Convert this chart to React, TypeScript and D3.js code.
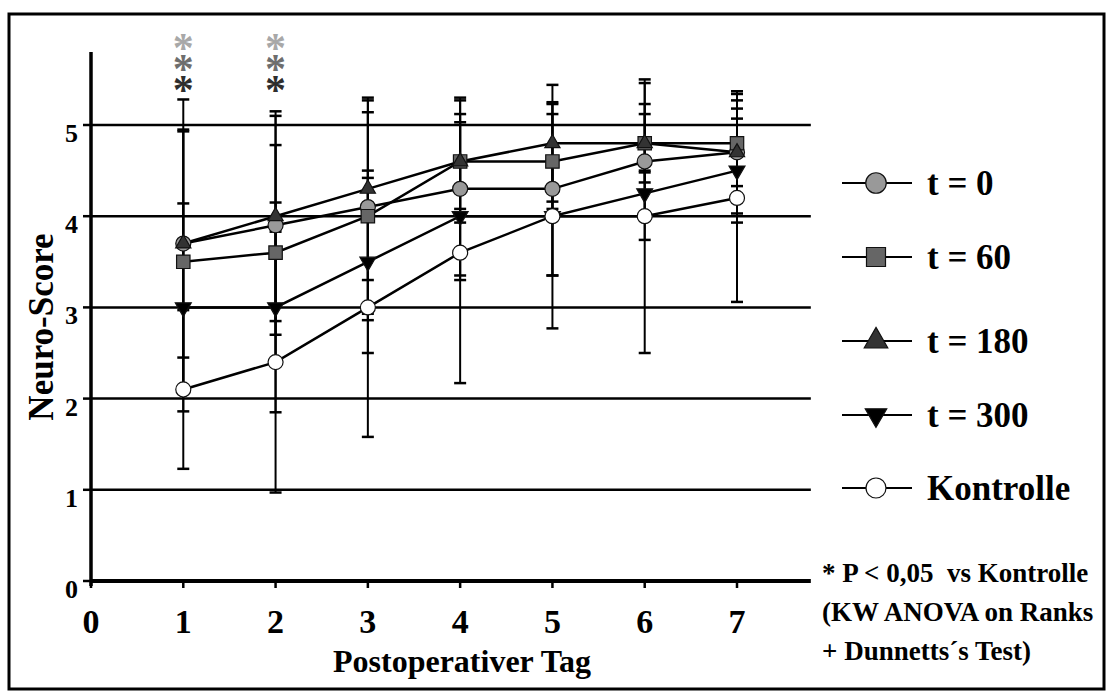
import React, { useEffect, useRef } from "react";
import * as d3 from "d3";

const W = 1112;
const H = 697;

const days = [1, 2, 3, 4, 5, 6, 7];
const xTicks = [0, 1, 2, 3, 4, 5, 6, 7];
const yTicks = [0, 1, 2, 3, 4, 5];

// mean and SD per group
const t0Mean = [3.7, 3.9, 4.1, 4.3, 4.3, 4.6, 4.7];
const t0Sd = [1.58, 1.2, 1.17, 1.0, 0.95, 0.86, 0.67];
const t60Mean = [3.5, 3.6, 4.0, 4.6, 4.6, 4.8, 4.8];
const t60Sd = [1.43, 1.18, 1.14, 0.67, 0.52, 0.43, 0.47];
const t180Mean = [3.7, 4.0, 4.3, 4.6, 4.8, 4.8, 4.7];
const t180Sd = [1.25, 1.15, 1.0, 0.52, 0.64, 0.32, 0.48];
const t300Mean = [3.0, 3.0, 3.5, 4.0, 4.0, 4.25, 4.5];
const t300Sd = [1.14, 1.15, 1.0, 0.65, 0.65, 0.25, 0.57];
const kontMean = [2.1, 2.4, 3.0, 3.6, 4.0, 4.0, 4.2];
const kontSd = [0.87, 1.43, 1.42, 1.43, 1.23, 1.5, 1.14];

const sigDays = [1, 2];
const sigColors = ["#a8a8a8", "#6e6e6e", "#2e2e2e"];

const footnote = ["* P < 0,05  vs Kontrolle", "(KW ANOVA on Ranks", "+ Dunnetts\u00b4s Test)"];

const series = [
  { name: "t = 0", mean: t0Mean, sd: t0Sd, fill: "#999999", type: d3.symbolCircle, size: 177, lsize: 330, rot: 0 },
  { name: "t = 60", mean: t60Mean, sd: t60Sd, fill: "#666666", type: d3.symbolSquare, size: 180, lsize: 361, rot: 0 },
  { name: "t = 180", mean: t180Mean, sd: t180Sd, fill: "#333333", type: d3.symbolTriangle, size: 100, lsize: 240, rot: 0 },
  { name: "t = 300", mean: t300Mean, sd: t300Sd, fill: "#000000", type: d3.symbolTriangle, size: 110, lsize: 200, rot: 180 },
  { name: "Kontrolle", mean: kontMean, sd: kontSd, fill: "#ffffff", type: d3.symbolCircle, size: 177, lsize: 314, rot: 0 },
];

const legendY = [183, 257, 341, 415, 488];

const FONT = "'Liberation Serif', 'Times New Roman', serif";

export default function App() {
  const ref = useRef<SVGSVGElement>(null);

  useEffect(() => {
    const svg = d3.select(ref.current);
    svg.selectAll("*").remove();

    const x = d3.scaleLinear().domain([0, 7]).range([91, 737]);
    const y = d3.scaleLinear().domain([0, 5]).range([581, 125]);

    svg.append("rect").attr("width", W).attr("height", H).attr("fill", "#fff");

    // outer frame
    svg.append("rect")
      .attr("x", 9).attr("y", 14).attr("width", 1095).attr("height", 675)
      .attr("fill", "none").attr("stroke", "#000").attr("stroke-width", 3);

    // grid lines (the 0 line is the x axis)
    svg.append("g").selectAll("line")
      .data(yTicks)
      .enter().append("line")
      .attr("x1", x(0)).attr("x2", x(7.8))
      .attr("y1", d => y(d)).attr("y2", d => y(d))
      .attr("stroke", "#000")
      .attr("stroke-width", d => d === 0 ? 4 : 2.5);

    // y axis
    svg.append("line")
      .attr("x1", x(0)).attr("x2", x(0))
      .attr("y1", y(5.8)).attr("y2", y(0) + 5)
      .attr("stroke", "#000").attr("stroke-width", 3.5);

    // y ticks + labels
    svg.append("g").selectAll("line")
      .data(yTicks).enter().append("line")
      .attr("x1", x(0) - 8).attr("x2", x(0))
      .attr("y1", d => y(d)).attr("y2", d => y(d))
      .attr("stroke", "#000").attr("stroke-width", 2.5);
    svg.append("g").selectAll("text")
      .data(yTicks).enter().append("text")
      .attr("x", 78).attr("y", d => y(d) + 17)
      .attr("text-anchor", "end")
      .attr("font-family", FONT).attr("font-weight", "bold").attr("font-size", 26)
      .text(d => String(d));

    // x ticks + labels
    svg.append("g").selectAll("line")
      .data(xTicks).enter().append("line")
      .attr("x1", d => x(d)).attr("x2", d => x(d))
      .attr("y1", y(0)).attr("y2", y(0) + 7)
      .attr("stroke", "#000").attr("stroke-width", 2.5);
    svg.append("g").selectAll("text")
      .data(xTicks).enter().append("text")
      .attr("x", d => x(d)).attr("y", 633)
      .attr("text-anchor", "middle")
      .attr("font-family", FONT).attr("font-weight", "bold").attr("font-size", 34)
      .text(d => String(d));

    // axis titles
    svg.append("text")
      .attr("x", 462).attr("y", 672)
      .attr("text-anchor", "middle")
      .attr("font-family", FONT).attr("font-weight", "bold").attr("font-size", 32)
      .text("Postoperativer Tag");
    svg.append("text")
      .attr("transform", "translate(53,327) rotate(-90)")
      .attr("text-anchor", "middle")
      .attr("font-family", FONT).attr("font-weight", "bold").attr("font-size", 35)
      .text("Neuro-Score");

    // error bars
    const eb = svg.append("g");
    series.forEach(s => {
      days.forEach((d, i) => {
        const hi = s.mean[i] + s.sd[i];
        const lo = s.mean[i] - s.sd[i];
        eb.append("line")
          .attr("x1", x(d)).attr("x2", x(d))
          .attr("y1", y(hi)).attr("y2", y(lo))
          .attr("stroke", "#000").attr("stroke-width", 2);
        [hi, lo].forEach(v => {
          eb.append("line")
            .attr("x1", x(d) - 6).attr("x2", x(d) + 6)
            .attr("y1", y(v)).attr("y2", y(v))
            .attr("stroke", "#000").attr("stroke-width", 2.5);
        });
      });
    });

    // series lines + markers
    const line = d3.line<number>()
      .x((_, i) => x(days[i]))
      .y(v => y(v));
    series.forEach(s => {
      svg.append("path")
        .datum(s.mean)
        .attr("d", line)
        .attr("fill", "none")
        .attr("stroke", "#000")
        .attr("stroke-width", 2.5);
    });
    series.forEach(s => {
      svg.append("g").selectAll("path")
        .data(s.mean).enter().append("path")
        .attr("d", d3.symbol().type(s.type).size(s.size)() as string)
        .attr("transform", (v, i) => `translate(${x(days[i])},${y(v)}) rotate(${s.rot})`)
        .attr("fill", s.fill)
        .attr("stroke", "#111").attr("stroke-width", 1.2);
    });

    // significance asterisks, one stacked text per day
    sigDays.forEach(d => {
      const t = svg.append("text")
        .attr("x", x(d)).attr("y", 62)
        .attr("text-anchor", "middle")
        .attr("font-family", FONT).attr("font-weight", "bold").attr("font-size", 42);
      sigColors.forEach((c, j) => {
        t.append("tspan")
          .attr("x", x(d)).attr("dy", j === 0 ? 0 : 21)
          .attr("fill", c)
          .text("*");
      });
    });

    // legend
    const lg = svg.append("g");
    series.forEach((s, i) => {
      const ly = legendY[i];
      lg.append("line")
        .attr("x1", 842).attr("x2", 912).attr("y1", ly).attr("y2", ly)
        .attr("stroke", "#000").attr("stroke-width", 2);
      lg.append("path")
        .attr("d", d3.symbol().type(s.type).size(s.lsize)() as string)
        .attr("transform", `translate(876,${ly}) rotate(${s.rot})`)
        .attr("fill", s.fill)
        .attr("stroke", "#111").attr("stroke-width", 1.2);
      lg.append("text")
        .attr("x", 927).attr("y", ly + 12)
        .attr("font-family", FONT).attr("font-weight", "bold").attr("font-size", 35)
        .text(s.name);
    });

    // footnote
    svg.append("g").selectAll("text")
      .data(footnote).enter().append("text")
      .attr("x", 822).attr("y", (_, i) => 582 + i * 39)
      .attr("font-family", FONT).attr("font-weight", "bold").attr("font-size", 27)
      .style("white-space", "pre")
      .text(d => d);
  }, []);

  return (
    <svg
      ref={ref}
      width={W}
      height={H}
      style={{ position: "absolute", left: 0, top: 0, display: "block" }}
    />
  );
}
